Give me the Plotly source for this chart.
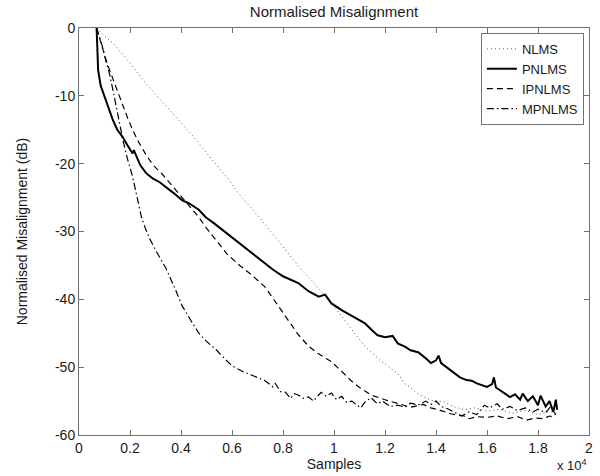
import plotly.graph_objects as go

# x in units of 1e4 samples
nlms_x = [0.069,0.10,0.133,0.2,0.263,0.33,0.393,0.46,0.523,0.58,0.626,0.70,0.78,0.86,0.93,0.99,1.05,1.12,1.18,1.25,1.276,1.30,1.327,1.38,1.43,1.47,1.51,1.55,1.60,1.65,1.70,1.75,1.80,1.85,1.87]
nlms_y = [0,-1.2,-2.2,-5.2,-8.2,-11.0,-13.6,-16.5,-19.5,-22.0,-24.4,-27.6,-31.3,-35.1,-38.0,-40.5,-43.5,-46.9,-49.0,-50.9,-52.4,-53.0,-53.9,-54.9,-55.1,-55.8,-56.3,-56.0,-56.5,-56.2,-56.8,-56.4,-57.0,-56.5,-57.2]

pnlms_x = [0.069,0.072,0.075,0.085,0.101,0.115,0.133,0.15,0.17,0.19,0.21,0.215,0.24,0.263,0.29,0.315,0.34,0.37,0.405,0.43,0.47,0.497,0.53,0.56,0.60,0.64,0.68,0.72,0.76,0.80,0.86,0.90,0.94,0.965,0.99,1.03,1.07,1.12,1.15,1.171,1.20,1.23,1.25,1.28,1.30,1.33,1.36,1.38,1.40,1.41,1.42,1.45,1.47,1.494,1.52,1.54,1.56,1.58,1.60,1.62,1.627,1.635,1.66,1.69,1.71,1.73,1.74,1.76,1.78,1.80,1.81,1.83,1.845,1.86,1.87,1.875]
pnlms_y = [0,-3,-6.2,-8.5,-10.2,-12,-13.6,-15,-16.0,-17.3,-18.5,-18.0,-20.2,-21.4,-22.2,-22.7,-23.4,-24.3,-25.4,-25.8,-26.8,-27.9,-28.8,-29.7,-30.9,-32.0,-33.3,-34.5,-35.6,-36.6,-37.6,-38.8,-39.6,-39.3,-40.6,-41.6,-42.4,-43.5,-44.6,-45.3,-45.6,-45.4,-46.5,-47.0,-47.5,-47.8,-48.7,-49.4,-49.0,-48.3,-49.4,-50.3,-50.8,-51.5,-51.9,-52.0,-52.4,-52.7,-52.9,-52.5,-51.5,-53.0,-53.6,-54.4,-54.0,-54.8,-53.9,-55.0,-54.3,-55.6,-54.2,-55.8,-55.0,-56.6,-54.8,-56.3]

ipnlms_x = [0.069,0.09,0.11,0.133,0.155,0.172,0.19,0.21,0.235,0.263,0.29,0.328,0.36,0.393,0.43,0.47,0.50,0.537,0.58,0.63,0.68,0.73,0.78,0.815,0.86,0.90,0.938,0.99,1.03,1.067,1.10,1.145,1.20,1.25,1.30,1.35,1.38,1.42,1.46,1.51,1.53,1.56,1.60,1.64,1.68,1.72,1.755,1.79,1.82,1.845,1.87]
ipnlms_y = [0,-2.8,-5.2,-7.5,-9.8,-11.3,-13.2,-15.0,-16.9,-18.7,-20.2,-21.6,-23.0,-24.4,-26.0,-27.9,-29.5,-31.3,-33.3,-35.0,-36.5,-38.2,-40.8,-42.8,-45.2,-46.9,-48.0,-49.2,-50.6,-52.0,-53.0,-54.1,-54.8,-55.3,-55.9,-55.5,-56.0,-56.4,-56.9,-57.2,-57.6,-57.3,-57.4,-57.2,-57.6,-57.3,-57.8,-57.5,-57.6,-57.2,-57.4]

mpnlms_x = [0.069,0.09,0.105,0.12,0.135,0.147,0.16,0.172,0.19,0.21,0.228,0.245,0.26,0.276,0.31,0.342,0.375,0.405,0.44,0.47,0.50,0.537,0.57,0.60,0.64,0.678,0.70,0.73,0.76,0.77,0.79,0.81,0.83,0.845,0.86,0.88,0.90,0.92,0.94,0.95,0.97,0.99,1.01,1.03,1.05,1.07,1.09,1.106,1.12,1.145,1.17,1.19,1.22,1.25,1.28,1.30,1.33,1.36,1.38,1.40,1.42,1.45,1.48,1.50,1.53,1.56,1.59,1.61,1.64,1.66,1.69,1.72,1.75,1.78,1.80,1.83,1.85,1.87]
mpnlms_y = [0,-2.5,-4.8,-6.8,-9.5,-11.6,-14.2,-16.5,-19.3,-21.9,-24.8,-27.9,-29.5,-31.0,-33.4,-35.5,-38.3,-41.0,-43.2,-45.0,-46.2,-47.4,-48.7,-49.8,-50.6,-51.2,-51.5,-52.0,-52.9,-52.4,-53.6,-53.7,-54.6,-53.9,-54.1,-54.6,-54.4,-55.0,-54.1,-53.7,-54.3,-53.8,-54.8,-54.3,-55.2,-55.0,-55.6,-56.0,-55.2,-54.5,-55.4,-55.0,-55.8,-55.6,-55.9,-55.3,-55.6,-55.0,-55.5,-55.0,-55.8,-56.2,-56.8,-57.2,-56.6,-57.0,-55.6,-56.0,-55.4,-56.2,-55.8,-56.4,-56.0,-56.6,-56.2,-56.7,-55.8,-57.0]

x_ticks = [0, 0.2, 0.4, 0.6, 0.8, 1, 1.2, 1.4, 1.6, 1.8, 2]
x_ticklabels = ["0", "0.2", "0.4", "0.6", "0.8", "1", "1.2", "1.4", "1.6", "1.8", "2"]
y_ticks = [0, -10, -20, -30, -40, -50, -60]
y_ticklabels = ["0", "-10", "-20", "-30", "-40", "-50", "-60"]

FONT = "Liberation Sans, Arial, sans-serif"
TXT = "#1a1a1a"

fig = go.Figure()
fig.add_trace(go.Scatter(x=nlms_x, y=nlms_y, mode="lines", name="NLMS",
                         line=dict(color="#555555", width=1, dash="1px,3px")))
fig.add_trace(go.Scatter(x=pnlms_x, y=pnlms_y, mode="lines", name="PNLMS",
                         line=dict(color="black", width=2)))
fig.add_trace(go.Scatter(x=ipnlms_x, y=ipnlms_y, mode="lines", name="IPNLMS",
                         line=dict(color="black", width=1.2, dash="6px,4px")))
fig.add_trace(go.Scatter(x=mpnlms_x, y=mpnlms_y, mode="lines", name="MPNLMS",
                         line=dict(color="black", width=1.2, dash="7px,3px,1.5px,3px")))

axis_common = dict(showgrid=False, zeroline=False, showline=True, linecolor="#707070",
                   linewidth=1, mirror="allticks", ticks="inside", ticklen=5,
                   tickcolor="#707070", tickfont=dict(family=FONT, size=14, color=TXT))

fig.update_xaxes(range=[0, 2], tickvals=x_ticks, ticktext=x_ticklabels,
                 title=dict(text="Samples", font=dict(family=FONT, size=14, color=TXT), standoff=3),
                 **axis_common)
fig.update_yaxes(range=[-60, 0], tickvals=y_ticks, ticktext=y_ticklabels,
                 title=dict(text="Normalised Misalignment (dB)", font=dict(family=FONT, size=14, color=TXT), standoff=24),
                 **axis_common)

fig.update_layout(
    width=600, height=476,
    margin=dict(l=79, r=7, t=28, b=41),
    paper_bgcolor="white", plot_bgcolor="white",
    title=dict(text="Normalised Misalignment", xref="paper", x=0.5, xanchor="center",
               yref="container", y=0.975, yanchor="middle",
               font=dict(family=FONT, size=15, color=TXT)),
    legend=dict(x=0.99, y=0.988, xanchor="right", yanchor="top", bgcolor="white",
                bordercolor="#707070", borderwidth=1, font=dict(family=FONT, size=13, color=TXT),
                tracegroupgap=0, itemwidth=30),
    showlegend=True,
    annotations=[dict(text="x 10<sup>4</sup>", xref="paper", yref="paper", x=1.0, y=-0.05,
                      xanchor="right", yanchor="top", showarrow=False,
                      font=dict(family=FONT, size=13, color=TXT))],
)

fig.write_html("out.html")
